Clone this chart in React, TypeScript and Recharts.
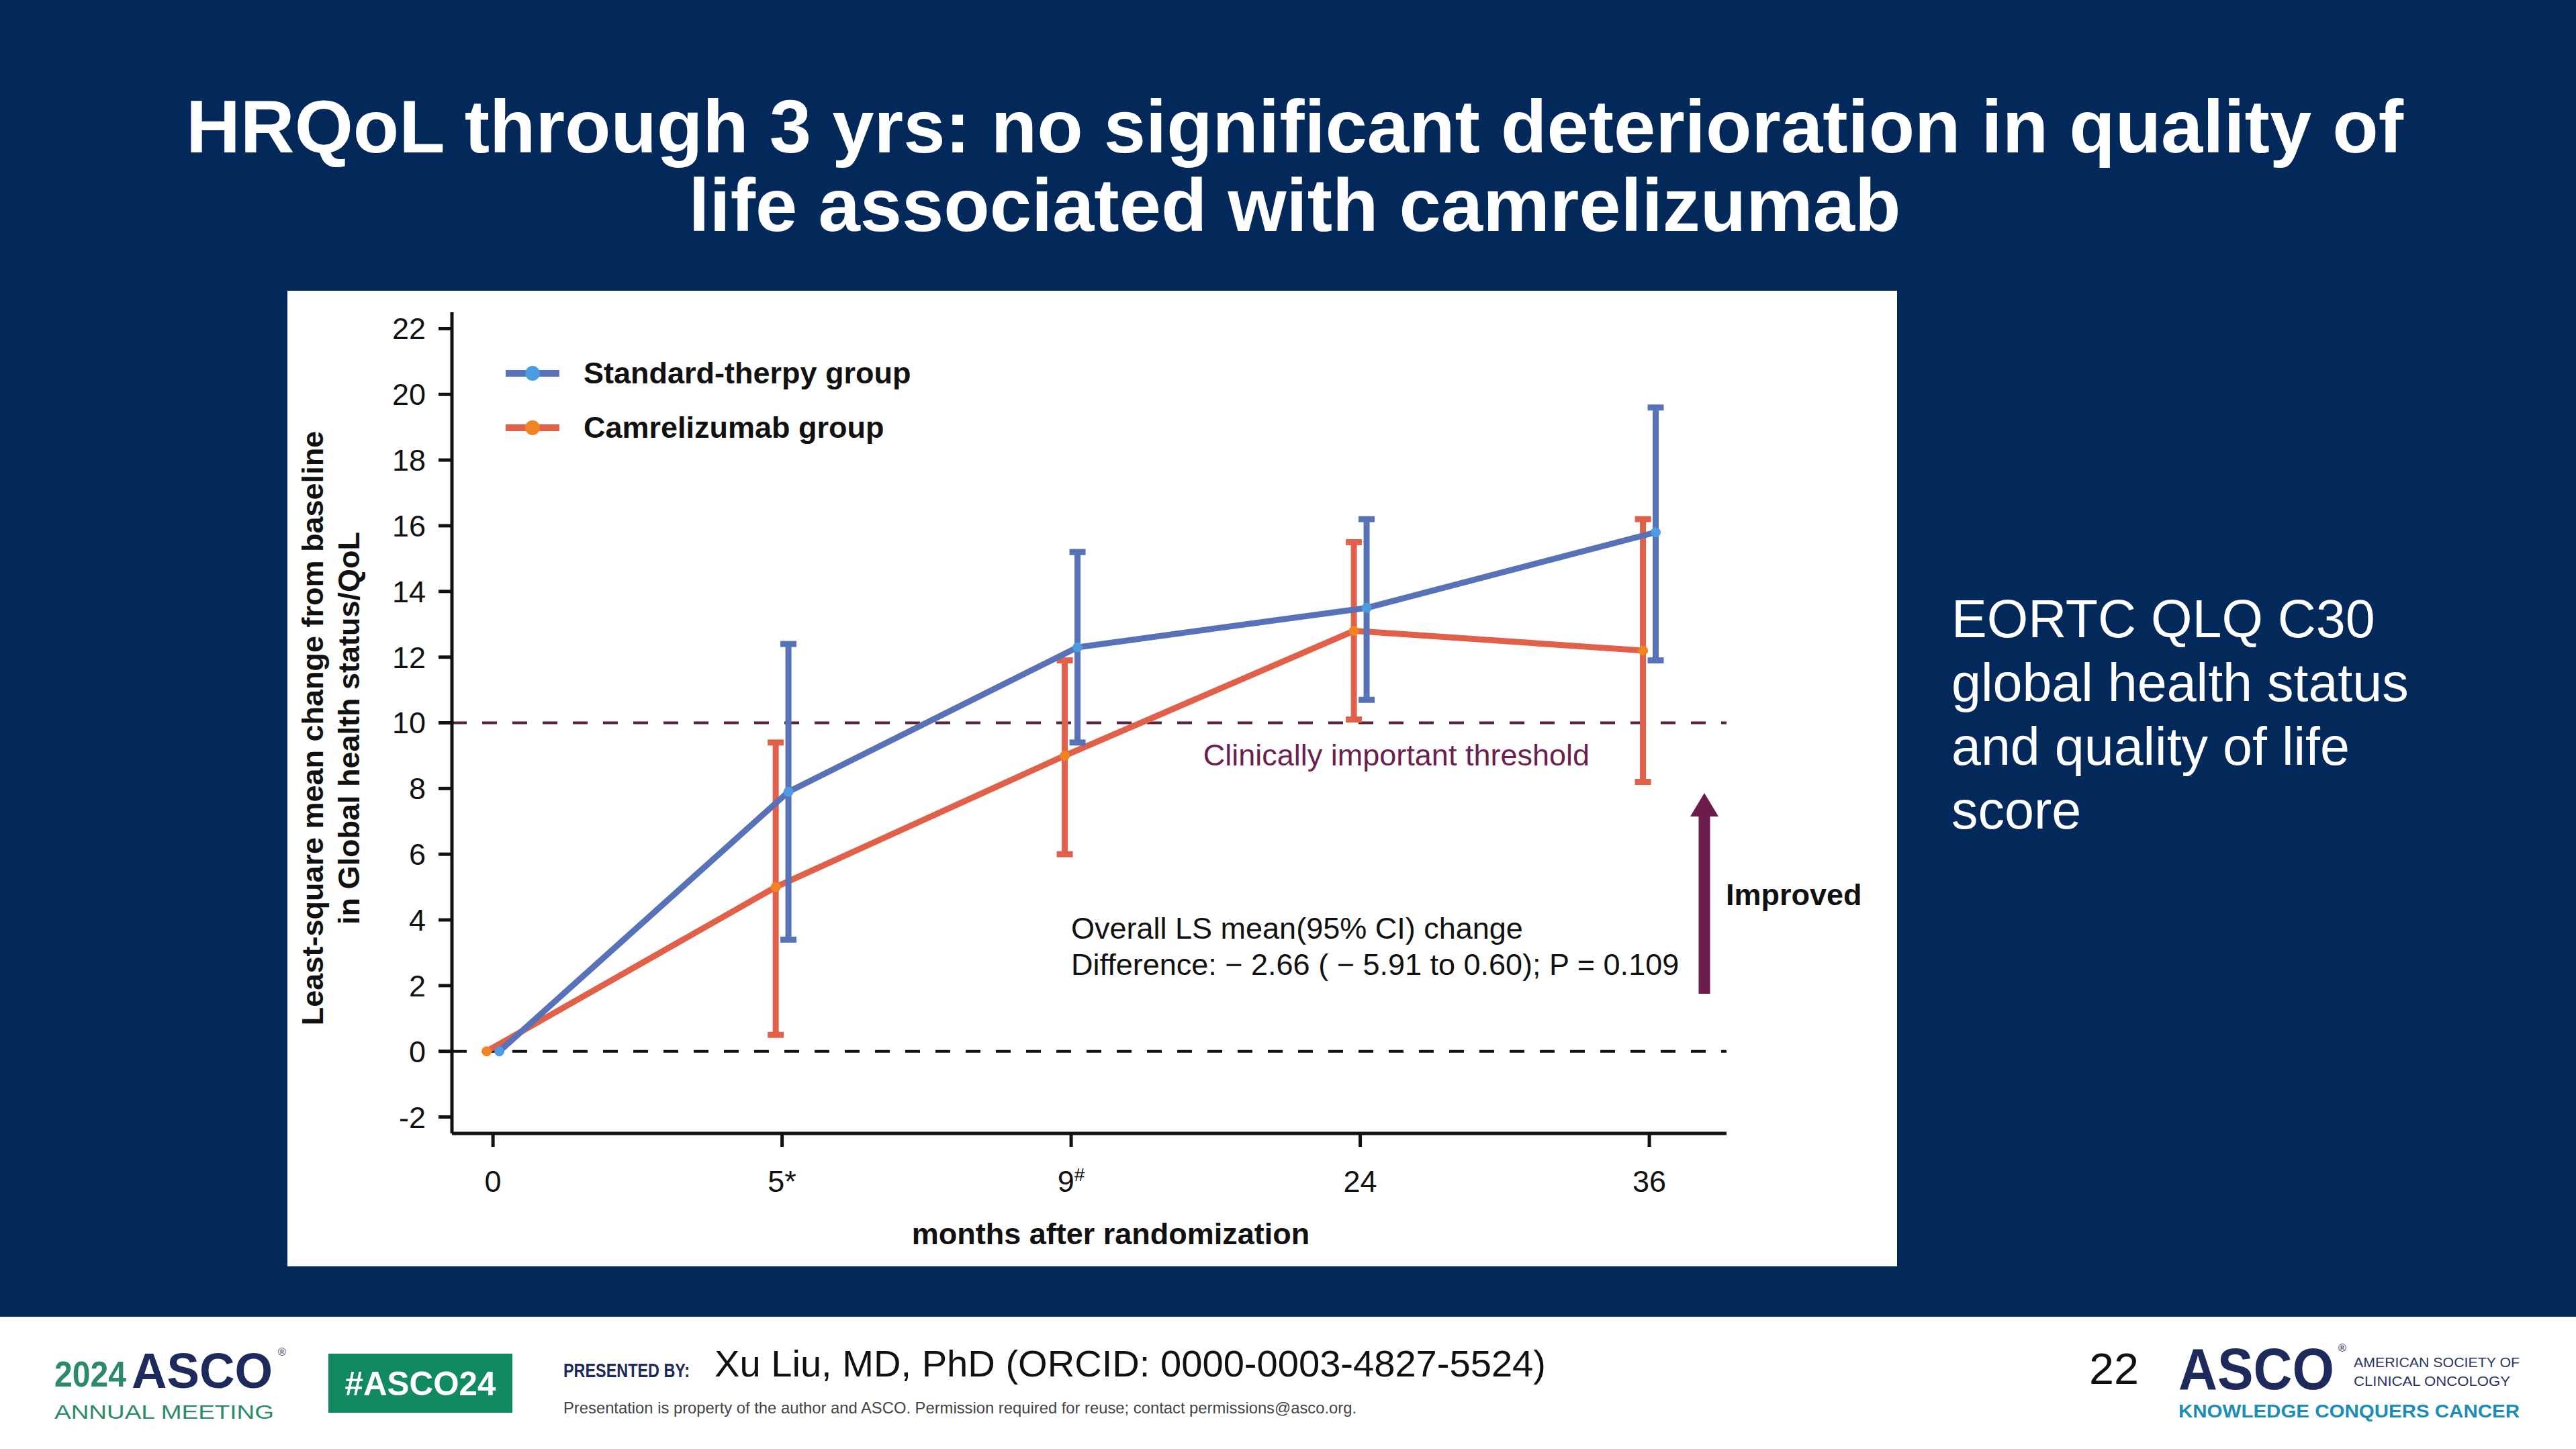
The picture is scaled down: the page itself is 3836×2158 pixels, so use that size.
import React from 'react';
import { ComposedChart, Line, XAxis, YAxis, ErrorBar, ReferenceLine, Legend } from 'recharts';

const FONT = '"Liberation Sans", Arial, Helvetica, sans-serif';
const NAVY = '#03285a';

// months after randomization (categories on the x axis)
const timeLabels = ['0', '5*', '9#', '24', '36'];

// Standard-therapy group: LS mean change from baseline and 95% CI
const standardMean = [0, 7.9, 12.3, 13.5, 15.8];
const standardLow = [null, 3.4, 9.4, 10.7, 11.9];
const standardHigh = [null, 12.4, 15.2, 16.2, 19.6];

// Camrelizumab group
const camMean = [0, 5.0, 9.0, 12.8, 12.2];
const camLow = [null, 0.5, 6.0, 10.1, 8.2];
const camHigh = [null, 9.4, 11.9, 15.5, 16.2];

const yTicks = [-2, 0, 2, 4, 6, 8, 10, 12, 14, 16, 18, 20, 22];
const thresholdValue = 10;

const STANDARD_NAME = 'Standard-therpy group';
const CAM_NAME = 'Camrelizumab group';
const legendOrder = [STANDARD_NAME, CAM_NAME];

const blueLine = '#5872b8';
const blueDot = '#4d9be0';
const redLine = '#e0604a';
const redDot = '#f08424';
const dotColors: Record<string, string> = { [STANDARD_NAME]: blueDot, [CAM_NAME]: redDot };

// small horizontal dodge so the two groups' error bars don't overlap
const DODGE = 0.022;

const buildSeries = (mean: number[], low: (number | null)[], high: (number | null)[], shift: number) =>
  mean.map((m, i) => ({
    x: i + shift,
    y: m,
    err: low[i] == null || high[i] == null ? null : [m - (low[i] as number), (high[i] as number) - m],
  }));

const standardData = buildSeries(standardMean, standardLow, standardHigh, DODGE);
const camData = buildSeries(camMean, camLow, camHigh, -DODGE);

const XTick = (props: any) => {
  const { x, y, payload } = props;
  const label = timeLabels[payload.value] ?? '';
  const sup = label.endsWith('#');
  const base = sup ? label.slice(0, -1) : label;
  return (
    <text x={x} y={y} dy={32} textAnchor="middle" fontSize={45} fill="#111" fontFamily={FONT}>
      {base}
      {sup && (
        <tspan fontSize={28} dy={-16}>
          #
        </tspan>
      )}
    </text>
  );
};

const renderYLabel = (props: any) => {
  const vb = props.viewBox || { x: 0, y: 32, width: 245, height: 1223 };
  const cx = vb.x + 64;
  const cy = vb.y + vb.height / 2 + 8;
  return (
    <text
      x={cx}
      y={cy}
      transform={`rotate(-90 ${cx} ${cy})`}
      textAnchor="middle"
      fontSize={45}
      fontWeight={700}
      fill="#111"
      fontFamily={FONT}
    >
      <tspan x={cx} y={cy - 27} dominantBaseline="central">
        Least-square mean change from baseline
      </tspan>
      <tspan x={cx} y={cy + 27} dominantBaseline="central">
        in Global health status/QoL
      </tspan>
    </text>
  );
};

const renderXLabel = (props: any) => {
  const vb = props.viewBox || { x: 245, y: 1255, width: 1898, height: 198 };
  return (
    <text
      x={vb.x + vb.width / 2 + 32}
      y={vb.y + 165}
      textAnchor="middle"
      fontSize={45}
      fontWeight={700}
      fill="#111"
      fontFamily={FONT}
    >
      months after randomization
    </text>
  );
};

const renderThresholdLabel = (props: any) => {
  const vb = props.viewBox || { x: 245, y: 643, width: 1898 };
  return (
    <text
      x={vb.x + vb.width * 0.741}
      y={vb.y + 63}
      textAnchor="middle"
      fontSize={45}
      fill="#6a1f4f"
      fontFamily={FONT}
    >
      Clinically important threshold
    </text>
  );
};

const renderLegend = (props: any) => {
  const items = [...(props.payload ?? [])].sort(
    (a: any, b: any) => legendOrder.indexOf(a.value) - legendOrder.indexOf(b.value)
  );
  return (
    <div>
      {items.map((item: any) => (
        <div key={item.value} style={{ display: 'flex', alignItems: 'center', height: 81 }}>
          <svg width={80} height={30}>
            <line x1={0} y1={15} x2={80} y2={15} stroke={item.color} strokeWidth={10} />
            <circle cx={40} cy={15} r={11} fill={dotColors[item.value]} />
          </svg>
          <span
            style={{ marginLeft: 36, fontSize: 45, fontWeight: 700, fontFamily: FONT, color: '#111', whiteSpace: 'nowrap' }}
          >
            {item.value}
          </span>
        </div>
      ))}
    </div>
  );
};

const Chart = () => (
  <ComposedChart width={2397} height={1453} margin={{ top: 32, right: 254, bottom: 0, left: 0 }}>
    <XAxis
      type="number"
      dataKey="x"
      domain={[-0.142, 4.267]}
      allowDataOverflow
      ticks={[0, 1, 2, 3, 4]}
      interval={0}
      height={198}
      tick={<XTick />}
      tickSize={20}
      tickMargin={35}
      axisLine={{ stroke: '#111', strokeWidth: 5 }}
      tickLine={{ stroke: '#111', strokeWidth: 5 }}
      label={renderXLabel}
    />
    <YAxis
      type="number"
      domain={[-2.5, 22.5]}
      allowDataOverflow
      ticks={yTicks}
      interval={0}
      width={245}
      tick={{ fontSize: 45, fill: '#111', fontFamily: FONT }}
      tickSize={20}
      tickMargin={19}
      axisLine={{ stroke: '#111', strokeWidth: 5 }}
      tickLine={{ stroke: '#111', strokeWidth: 5 }}
      label={renderYLabel}
    />
    <ReferenceLine
      y={thresholdValue}
      stroke="#5e1d3f"
      strokeWidth={4}
      strokeDasharray="22 23"
      label={renderThresholdLabel}
    />
    <ReferenceLine y={0} stroke="#111" strokeWidth={4} strokeDasharray="22 23" />
    <Legend
      layout="vertical"
      align="center"
      verticalAlign="middle"
      content={renderLegend}
      wrapperStyle={{ left: 325, top: 82, width: 'auto', height: 'auto' }}
    />
    <Line
      data={camData}
      dataKey="y"
      name={CAM_NAME}
      type="linear"
      stroke={redLine}
      strokeWidth={9}
      dot={{ r: 7, fill: redDot, stroke: redDot, strokeWidth: 1 }}
      activeDot={false}
      isAnimationActive={false}
    >
      <ErrorBar dataKey="err" direction="y" width={12} stroke={redLine} strokeWidth={9} isAnimationActive={false} />
    </Line>
    <Line
      data={standardData}
      dataKey="y"
      name={STANDARD_NAME}
      type="linear"
      stroke={blueLine}
      strokeWidth={9}
      dot={{ r: 7, fill: blueDot, stroke: blueDot, strokeWidth: 1 }}
      activeDot={false}
      isAnimationActive={false}
    >
      <ErrorBar dataKey="err" direction="y" width={12} stroke={blueLine} strokeWidth={9} isAnimationActive={false} />
    </Line>
  </ComposedChart>
);

const Annotations = () => (
  <svg
    width={2397}
    height={1453}
    style={{ position: 'absolute', left: 0, top: 0, pointerEvents: 'none', whiteSpace: 'pre' }}
    fontFamily={FONT}
  >
    <text x={1167} y={965} fontSize={45} fill="#111">
      Overall LS mean(95% CI) change
    </text>
    <text x={1167} y={1019} fontSize={45} fill="#111">
      {'Difference:  \u2212 2.66 ( \u2212 5.91 to 0.60); P = 0.109'}
    </text>
    <polygon
      points="2110,748 2131,783 2118.5,783 2118.5,1047 2101.5,1047 2101.5,783 2089,783"
      fill="#6d1b4a"
    />
    <text x={2142} y={915} fontSize={45} fontWeight={700} fill="#111">
      Improved
    </text>
  </svg>
);

const Footer = () => (
  <svg width={3836} height={197} style={{ position: 'absolute', left: 0, top: 1961 }} fontFamily={FONT}>
    <rect x={0} y={0} width={3836} height={197} fill="#ffffff" />
    <text x={81} y={104} fontSize={54} fontWeight={700} fill="#2a8a69" textLength={107} lengthAdjust="spacingAndGlyphs">
      2024
    </text>
    <text x={196} y={106} fontSize={74} fontWeight={900} fill="#1f2a5c" textLength={210} lengthAdjust="spacingAndGlyphs">
      ASCO
    </text>
    <text x={414} y={58} fontSize={16} fill="#1f2a5c">
      ®
    </text>
    <text x={81} y={152} fontSize={30} fill="#2a8a69" textLength={327} lengthAdjust="spacingAndGlyphs">
      ANNUAL MEETING
    </text>
    <rect x={489} y={55} width={274} height={88} fill="#128a5f" />
    <text
      x={626}
      y={117}
      fontSize={50}
      fontWeight={700}
      fill="#ffffff"
      textAnchor="middle"
      textLength={225}
      lengthAdjust="spacingAndGlyphs"
    >
      #ASCO24
    </text>
    <text x={839} y={90} fontSize={30} fontWeight={700} fill="#1f2a5c" textLength={188} lengthAdjust="spacingAndGlyphs">
      PRESENTED BY:
    </text>
    <text x={1064} y={89} fontSize={56} fill="#111" textLength={1238} lengthAdjust="spacingAndGlyphs">
      Xu Liu, MD, PhD (ORCID: 0000-0003-4827-5524)
    </text>
    <text x={839} y={144} fontSize={24} fill="#444" textLength={1181} lengthAdjust="spacingAndGlyphs">
      Presentation is property of the author and ASCO. Permission required for reuse; contact permissions@asco.org.
    </text>
    <text x={3111} y={100} fontSize={64} fill="#111" textLength={74} lengthAdjust="spacingAndGlyphs">
      22
    </text>
    <text x={3244} y={108} fontSize={88} fontWeight={900} fill="#1f2a5c" textLength={232} lengthAdjust="spacingAndGlyphs">
      ASCO
    </text>
    <text x={3482} y={52} fontSize={16} fill="#1f2a5c">
      ®
    </text>
    <text x={3505} y={75} fontSize={21} fill="#2a3560" textLength={247} lengthAdjust="spacingAndGlyphs">
      AMERICAN SOCIETY OF
    </text>
    <text x={3505} y={103} fontSize={21} fill="#2a3560" textLength={233} lengthAdjust="spacingAndGlyphs">
      CLINICAL ONCOLOGY
    </text>
    <text x={3244} y={150} fontSize={28} fontWeight={700} fill="#1d8db6" textLength={508} lengthAdjust="spacingAndGlyphs">
      KNOWLEDGE CONQUERS CANCER
    </text>
  </svg>
);

export default function App() {
  return (
    <div
      style={{
        position: 'absolute',
        left: 0,
        top: 0,
        width: 3836,
        height: 2158,
        background: NAVY,
        overflow: 'hidden',
        fontFamily: FONT,
      }}
    >
      <div
        style={{
          position: 'absolute',
          left: 0,
          top: 130,
          width: 3856,
          textAlign: 'center',
          color: '#fff',
          fontWeight: 700,
          fontSize: 112,
          lineHeight: '117px',
          whiteSpace: 'nowrap',
        }}
      >
        HRQoL through 3 yrs: no significant deterioration in quality of
        <br />
        life associated with camrelizumab
      </div>

      <div style={{ position: 'absolute', left: 428, top: 433, width: 2397, height: 1453, background: '#ffffff' }}>
        <Chart />
        <Annotations />
      </div>

      <div
        style={{
          position: 'absolute',
          left: 2906,
          top: 874,
          color: '#fff',
          fontSize: 79,
          lineHeight: '95px',
          whiteSpace: 'nowrap',
        }}
      >
        EORTC QLQ C30
        <br />
        global health status
        <br />
        and quality of life
        <br />
        score
      </div>

      <Footer />
    </div>
  );
}
